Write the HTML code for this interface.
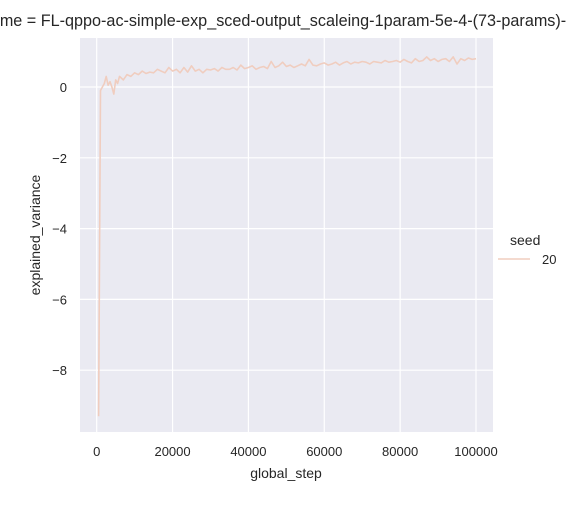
<!DOCTYPE html>
<html><head><meta charset="utf-8"><style>
body{margin:0;background:#fff;width:571px;height:500px;overflow:hidden;font-family:"Liberation Sans",Arial,sans-serif}
svg text{font-family:"Liberation Sans",Arial,sans-serif;fill:#262626}
</style></head><body>
<svg id="chart" width="571" height="500"></svg>
<script>
const steps=[500,1000,1500,2000,2500,3000,3500,4000,4500,5000,5500,6000,7000,8000,9000,10000,11000,12000,13000,14000,15000,16000,17000,18000,19000,20000,21000,22000,23000,24000,25000,26000,27000,28000,29000,30000,31000,32000,33000,34000,35000,36000,37000,38000,39000,40000,41000,42000,43000,44000,45000,46000,47000,48000,49000,50000,51000,52000,53000,54000,55000,56000,57000,58000,59000,60000,61000,62000,63000,64000,65000,66000,67000,68000,69000,70000,71000,72000,73000,74000,75000,76000,77000,78000,79000,80000,81000,82000,83000,84000,85000,86000,87000,88000,89000,90000,91000,92000,93000,94000,95000,96000,97000,98000,99000,100000];
const values=[-9.3,-0.1,0.0,0.1,0.3,0.05,0.15,0.0,-0.2,0.2,0.1,0.3,0.2,0.35,0.3,0.4,0.35,0.45,0.38,0.42,0.4,0.5,0.45,0.4,0.55,0.45,0.5,0.4,0.55,0.42,0.6,0.45,0.5,0.4,0.5,0.48,0.52,0.45,0.55,0.5,0.5,0.55,0.48,0.62,0.52,0.55,0.6,0.5,0.55,0.58,0.52,0.72,0.55,0.6,0.7,0.58,0.62,0.55,0.6,0.65,0.6,0.78,0.62,0.6,0.65,0.68,0.62,0.65,0.7,0.62,0.68,0.72,0.65,0.7,0.68,0.72,0.7,0.65,0.72,0.7,0.68,0.75,0.7,0.72,0.75,0.7,0.78,0.72,0.68,0.8,0.72,0.75,0.85,0.75,0.8,0.72,0.78,0.8,0.72,0.85,0.65,0.8,0.75,0.82,0.78,0.8];
const xTicks=[0,20000,40000,60000,80000,100000];
const yTicks=[-8,-6,-4,-2,0];
const NS="http://www.w3.org/2000/svg";
const svg=document.getElementById('chart');
const L=80,R=493,T=38,B=432;
const xs=v=>96.7+(v/100000)*(476-96.7);
const ys=v=>87-v*35.4;
function mk(t,a,p){const e=document.createElementNS(NS,t);for(const k in a)e.setAttribute(k,a[k]);(p||svg).appendChild(e);return e;}
const bg=mk('rect',{x:L,y:T,width:R-L,height:B-T,fill:'#eaeaf2'});


xTicks.forEach(t=>{
 const g=mk('line',{x1:xs(t),x2:xs(t),y1:T,y2:B,stroke:'#fff','stroke-width':1.2});
 
 
 const tx=mk('text',{x:xs(t),y:B+24,'text-anchor':'middle','font-size':13});
 tx.textContent=t;
 
 
});
yTicks.forEach(t=>{
 const g=mk('line',{x1:L,x2:R,y1:ys(t),y2:ys(t),stroke:'#fff','stroke-width':1.2});
 
 
 const tx=mk('text',{x:L-13,y:ys(t)+5,'text-anchor':'end','font-size':13});
 tx.textContent=t===0?'0':'\u2212'+Math.abs(t);
 
 
});
const pts=steps.map((s,i)=>xs(s).toFixed(1)+','+ys(values[i]).toFixed(1)).join(' ');
const ln=mk('polyline',{points:pts,fill:'none',stroke:'#f0cdbf','stroke-width':1.6,'stroke-linejoin':'round'});


const xl=mk('text',{x:286,y:478,'text-anchor':'middle','font-size':14});
xl.textContent='global_step';


const yl=mk('text',{x:0,y:0,'text-anchor':'middle','font-size':14,transform:'translate(40,235) rotate(-90)'});
yl.textContent='explained_variance';


const ti=mk('text',{x:274,y:26,'text-anchor':'middle','font-size':16.2});
ti.textContent='name = FL-qppo-ac-simple-exp_sced-output_scaleing-1param-5e-4-(73-params)-';


const lt=mk('text',{x:510,y:245,'font-size':14});
lt.textContent='seed';


const ll=mk('line',{x1:498,x2:530,y1:259,y2:259,stroke:'#f0cdbf','stroke-width':1.6});


const lx=mk('text',{x:542,y:264,'font-size':13});
lx.textContent='20';


</script>
</body></html>
